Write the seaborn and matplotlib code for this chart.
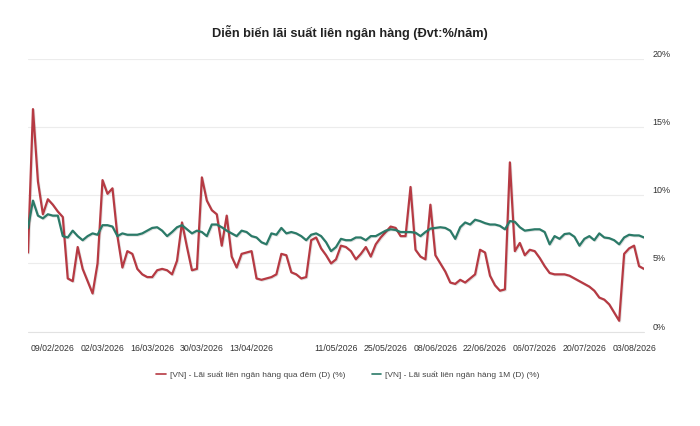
import pandas as pd
import matplotlib
matplotlib.use('Agg')
import matplotlib.pyplot as plt
import matplotlib.patheffects as pe
import seaborn as sns
from matplotlib.lines import Line2D

# business days on the interbank market (weekends + Tet / April-May holidays removed)
holidays = ['2026-02-16', '2026-02-17', '2026-02-18', '2026-02-19', '2026-02-20',
            '2026-04-27', '2026-04-30', '2026-05-01']
dates = pd.bdate_range('2026-02-02', '2026-08-05', freq='C', holidays=holidays)

overnight = [5.8, 16.3, 11.0, 8.6, 9.7, 9.3, 8.8, 8.4, 3.9, 3.7,
             6.2, 4.6, 3.7, 2.8, 5.0, 11.1, 10.1, 10.5, 7.0, 4.7,
             5.9, 5.7, 4.6, 4.2, 4.0, 4.0, 4.5, 4.6, 4.5, 4.2,
             5.2, 8.0, 6.2, 4.5, 4.6, 11.3, 9.6, 8.9, 8.6, 6.3,
             8.5, 5.5, 4.7, 5.7, 5.8, 5.9, 3.9, 3.8, 3.9, 4.0,
             4.2, 5.7, 5.6, 4.35, 4.2, 3.9, 4.0, 6.7, 6.9, 6.1,
             5.6, 5.0, 5.3, 6.3, 6.2, 5.9, 5.3, 5.7, 6.2, 5.5,
             6.4, 6.9, 7.3, 7.7, 7.6, 7.0, 7.0, 10.6, 6.0, 5.5,
             5.3, 9.3, 5.6, 5.0, 4.4, 3.6, 3.5, 3.8, 3.6, 3.9,
             4.2, 6.0, 5.8, 4.1, 3.4, 3.0, 3.1, 12.4, 5.9, 6.5,
             5.6, 6.0, 5.9, 5.4, 4.8, 4.3, 4.2, 4.2, 4.2, 4.1,
             3.9, 3.7, 3.5, 3.3, 3.0, 2.5, 2.35, 2.0, 1.4, 0.8,
             5.7, 6.1, 6.3, 4.8, 4.6]

one_month = [7.6, 9.6, 8.5, 8.3, 8.6, 8.5, 8.5, 7.0, 6.9, 7.4,
             7.0, 6.7, 7.0, 7.2, 7.1, 7.8, 7.8, 7.7, 7.0, 7.2,
             7.1, 7.1, 7.1, 7.2, 7.4, 7.6, 7.65, 7.4, 7.0, 7.3,
             7.65, 7.8, 7.5, 7.2, 7.4, 7.3, 7.0, 7.85, 7.85, 7.65,
             7.4, 7.2, 7.0, 7.4, 7.3, 7.0, 6.9, 6.55, 6.4, 7.2,
             7.1, 7.6, 7.2, 7.3, 7.2, 7.0, 6.7, 7.1, 7.2, 7.0,
             6.55, 5.9, 6.2, 6.8, 6.7, 6.7, 6.9, 6.9, 6.7, 7.0,
             7.0, 7.2, 7.4, 7.5, 7.45, 7.3, 7.3, 7.3, 7.25, 7.0,
             7.3, 7.55, 7.6, 7.65, 7.6, 7.4, 6.8, 7.65, 8.0, 7.85,
             8.2, 8.1, 7.95, 7.85, 7.85, 7.75, 7.5, 8.1, 8.05, 7.65,
             7.4, 7.45, 7.5, 7.5, 7.3, 6.4, 7.0, 6.8, 7.15, 7.2,
             6.95, 6.3, 6.8, 7.0, 6.7, 7.2, 6.9, 6.85, 6.7, 6.4,
             6.9, 7.1, 7.05, 7.05, 6.9]

tick_dates = ['09/02/2026', '02/03/2026', '16/03/2026', '30/03/2026', '13/04/2026',
              '11/05/2026', '25/05/2026', '08/06/2026', '22/06/2026', '06/07/2026',
              '20/07/2026', '03/08/2026']
y_ticks = [0, 5, 10, 15, 20]

name_on = '[VN] - Lãi suất liên ngân hàng qua đêm (D) (%)'
name_1m = '[VN] - Lãi suất liên ngân hàng 1M (D) (%)'
colors = {name_on: '#b63a43', name_1m: '#2b7a68'}

df = pd.DataFrame({'date': dates, name_on: overnight, name_1m: one_month})
df['pos'] = range(len(df))
long_df = df.melt(id_vars=['date', 'pos'], var_name='series', value_name='rate')

sns.set_theme(style='white')
plt.rcParams['font.family'] = ['Liberation Sans', 'DejaVu Sans']

fig = plt.figure(figsize=(7, 4.26), dpi=100)
ax = fig.add_axes([28 / 700, 1 - 331.7 / 426, (644 - 28) / 700, (331.7 - 58.6) / 426])

sns.lineplot(data=long_df, x='pos', y='rate', hue='series', palette=colors,
             linewidth=1.6, legend=False, ax=ax)
# soft drop shadow like the web chart
for line in ax.lines:
    line.set_path_effects([pe.SimpleLineShadow(offset=(0.6, -0.6), alpha=0.12, shadow_color='black'),
                           pe.Normal()])
    line.set_solid_joinstyle('round')

ax.set_xlim(0, len(df) - 1)
ax.set_ylim(0, 20)
ax.set_xlabel('')
ax.set_ylabel('')

# ordinal x axis: ticks on the labelled trading days
label_str = df['date'].dt.strftime('%d/%m/%Y')
tick_pos = [int(df.loc[label_str == d, 'pos'].iloc[0]) for d in tick_dates]
ax.set_xticks(tick_pos)
ax.set_xticklabels(tick_dates, fontsize=6.3, color='#333333')
ax.tick_params(axis='x', length=0, pad=9)

ax.yaxis.tick_right()
ax.set_yticks(y_ticks)
ax.set_yticklabels([f'{v}%' for v in y_ticks], fontsize=6.5, color='#333333')
ax.tick_params(axis='y', length=0, pad=6)
for lab in ax.get_yticklabels():
    lab.set_verticalalignment('bottom')

ax.grid(axis='y', color='#ececec', linewidth=0.8)
ax.grid(axis='x', visible=False)
ax.axhline(0, color='#e2e2e2', linewidth=0.8, zorder=0, clip_on=False)
for s in ax.spines.values():
    s.set_visible(False)

fig.text(350 / 700, 1 - 33 / 426, 'Diễn biến lãi suất liên ngân hàng (Đvt:%/năm)',
         ha='center', va='center', fontsize=9.2, fontweight='bold', color='#222222')

handles = [Line2D([], [], color=colors[name_on], lw=1.2),
           Line2D([], [], color=colors[name_1m], lw=1.2)]
fig.legend(handles, [name_on, name_1m], loc='center', bbox_to_anchor=(348 / 700, 1 - 375 / 426),
           ncol=2, frameon=False, fontsize=6, handlelength=1.1, handletextpad=0.5,
           columnspacing=3.2, labelcolor='#444444')

fig.savefig('out.png', dpi=100, facecolor='white')
